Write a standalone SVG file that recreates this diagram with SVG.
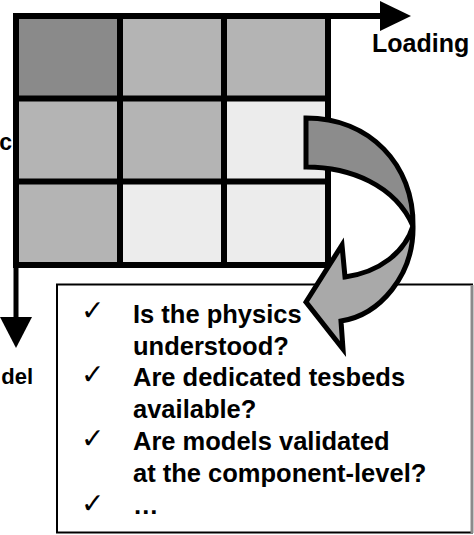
<svg xmlns="http://www.w3.org/2000/svg" width="474" height="535" viewBox="0 0 474 535">
<style>
.lbl{font-family:"Liberation Sans",Arial,Helvetica,sans-serif;font-weight:bold;fill:#000}
.item{font-family:"Liberation Sans",Arial,Helvetica,sans-serif;font-weight:bold;font-size:25.5px;fill:#000}
.chk{font-family:"DejaVu Sans",sans-serif;font-size:28px;fill:#000}
.dark{fill:#8a8a8a}
.mid{fill:#b4b4b4}
.light{fill:#ececec}
.arrowOut{stroke:#000;stroke-width:5;stroke-linejoin:miter}
</style>
<rect width="474" height="535" fill="#fff"/>
<g id="axes">
  <line x1="16" y1="16" x2="382" y2="16" stroke="#000" stroke-width="6"/>
  <polygon points="380,1 411,16 380,31" fill="#000"/>
  <line x1="16" y1="16" x2="16" y2="319" stroke="#000" stroke-width="5"/>
  <polygon points="0,317 32,317 16,348" fill="#000"/>
  <text class="lbl" x="372" y="52" font-size="25">Loading</text>
  <text class="lbl" x="12" y="150" font-size="23" text-anchor="end">c</text>
  <text class="lbl" x="33" y="384" font-size="22" text-anchor="end">del</text>
</g>
<g id="grid">
  <rect class="dark" x="16" y="16" width="104" height="82.5"/>
  <rect class="mid" x="120" y="16" width="104" height="82.5"/>
  <rect class="mid" x="224" y="16" width="104" height="82.5"/>
  <rect class="mid" x="16" y="98.5" width="104" height="83"/>
  <rect class="mid" x="120" y="98.5" width="104" height="83"/>
  <rect class="light" x="224" y="98.5" width="104" height="83"/>
  <rect class="mid" x="16" y="181.5" width="104" height="83.5"/>
  <rect class="light" x="120" y="181.5" width="104" height="83.5"/>
  <rect class="light" x="224" y="181.5" width="104" height="83.5"/>
  <path d="M16,16H328V265H16Z M120,16V265 M224,16V265 M16,98.5H328 M16,181.5H328" fill="none" stroke="#000" stroke-width="6"/>
</g>
<g id="textbox">
  <rect x="57" y="284.5" width="415" height="248" fill="#fff" stroke="#000" stroke-width="2"/>
  <line x1="472" y1="285" x2="472" y2="533" stroke="#8a8a8a" stroke-width="3"/>
  <text class="chk" x="81" y="320">✓</text>
  <text class="chk" x="81" y="384">✓</text>
  <text class="chk" x="81" y="448">✓</text>
  <text class="chk" x="81" y="513">✓</text>
  <text class="item" x="133" y="323">Is the physics</text>
  <text class="item" x="133" y="355">understood?</text>
  <text class="item" x="133" y="386">Are dedicated tesbeds</text>
  <text class="item" x="133" y="418">available?</text>
  <text class="item" x="133" y="450">Are models validated</text>
  <text class="item" x="133" y="482">at the component-level?</text>
  <text class="item" x="133" y="514">…</text>
</g>
<g id="curved-arrow">
  <path class="arrowOut" d="M413,226 C405,252 380,272 345,277 L342,245 L306,302 L343,349 L341,321 C380,315 414,275 413,226 Z" fill="#a9a9a9"/>
  <path class="arrowOut" d="M306,118 C370,118 414,165 413,226 C395,185 350,167 306,167 Z" fill="#8c8c8c"/>
</g>
</svg>
